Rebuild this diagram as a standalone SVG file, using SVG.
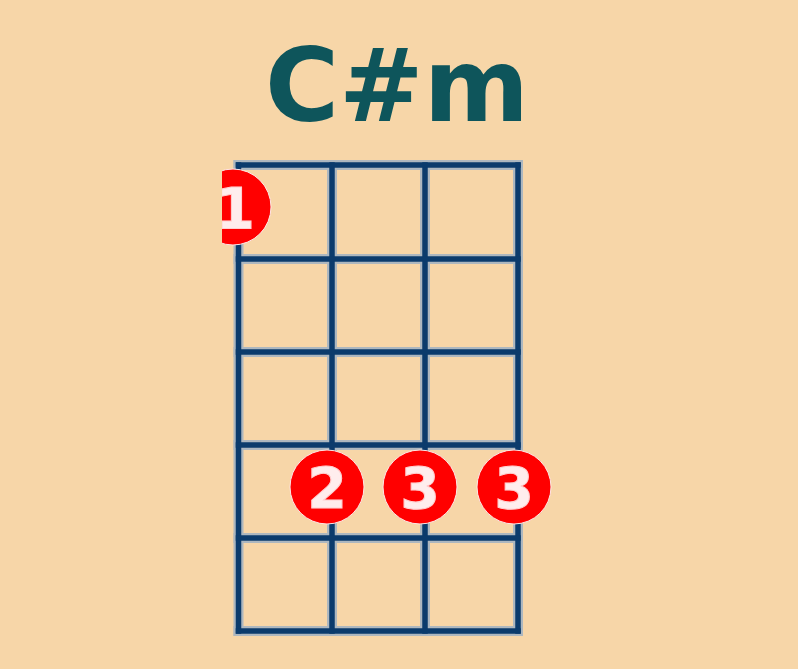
<svg xmlns="http://www.w3.org/2000/svg" width="798" height="669" viewBox="0 0 798 669">
  <defs>
    <style>
      .halo { stroke: #8FAACA; stroke-width: 10; fill: none; stroke-linecap: square; opacity: 0.7; }
      .line { stroke: #0B3B6C; stroke-width: 5.5; fill: none; stroke-linecap: square; }
      .dot { fill: #FF0000; stroke: #FFE6E6; stroke-width: 1; }
      .num { font-family: "DejaVu Sans", "Liberation Sans", sans-serif; font-weight: bold; font-size: 57px; fill: #FFEDED; text-anchor: middle; stroke: #FFD0D0; stroke-width: 1; }
      .title { font-family: "DejaVu Sans", "Liberation Sans", sans-serif; font-weight: bold; font-size: 101px; fill: #0E555B; text-anchor: middle; }
    </style>
    <clipPath id="leftClip">
      <rect x="222" y="0" width="576" height="669"/>
    </clipPath>
  </defs>
  <rect x="0" y="0" width="798" height="669" fill="#F7D6A8"/>
  <g id="title">
    <text class="title" x="397" y="121">C#m</text>
  </g>
  <g id="grid">
    <g class="halo">
      <line x1="238.5" y1="165" x2="238.5" y2="631"/>
      <line x1="332" y1="165" x2="332" y2="631"/>
      <line x1="425" y1="165" x2="425" y2="631"/>
      <line x1="518" y1="165" x2="518" y2="631"/>
      <line x1="238.5" y1="165" x2="518" y2="165"/>
      <line x1="238.5" y1="259" x2="518" y2="259"/>
      <line x1="238.5" y1="352" x2="518" y2="352"/>
      <line x1="238.5" y1="445" x2="518" y2="445"/>
      <line x1="238.5" y1="538" x2="518" y2="538"/>
      <line x1="238.5" y1="631" x2="518" y2="631"/>
    </g>
    <g class="line">
      <line x1="238.5" y1="165" x2="238.5" y2="631"/>
      <line x1="332" y1="165" x2="332" y2="631"/>
      <line x1="425" y1="165" x2="425" y2="631"/>
      <line x1="518" y1="165" x2="518" y2="631"/>
      <line x1="238.5" y1="165" x2="518" y2="165"/>
      <line x1="238.5" y1="259" x2="518" y2="259"/>
      <line x1="238.5" y1="352" x2="518" y2="352"/>
      <line x1="238.5" y1="445" x2="518" y2="445"/>
      <line x1="238.5" y1="538" x2="518" y2="538"/>
      <line x1="238.5" y1="631" x2="518" y2="631"/>
    </g>
  </g>
  <g id="dot1" clip-path="url(#leftClip)">
    <circle class="dot" cx="233" cy="207" r="38"/>
    <text class="num" x="235" y="229">1</text>
  </g>
  <g id="dot2">
    <circle class="dot" cx="327" cy="487" r="37"/>
    <text class="num" x="327" y="509">2</text>
  </g>
  <g id="dot3a">
    <circle class="dot" cx="420" cy="487" r="37"/>
    <text class="num" x="420" y="509">3</text>
  </g>
  <g id="dot3b">
    <circle class="dot" cx="514" cy="487" r="37"/>
    <text class="num" x="514" y="509">3</text>
  </g>
</svg>
